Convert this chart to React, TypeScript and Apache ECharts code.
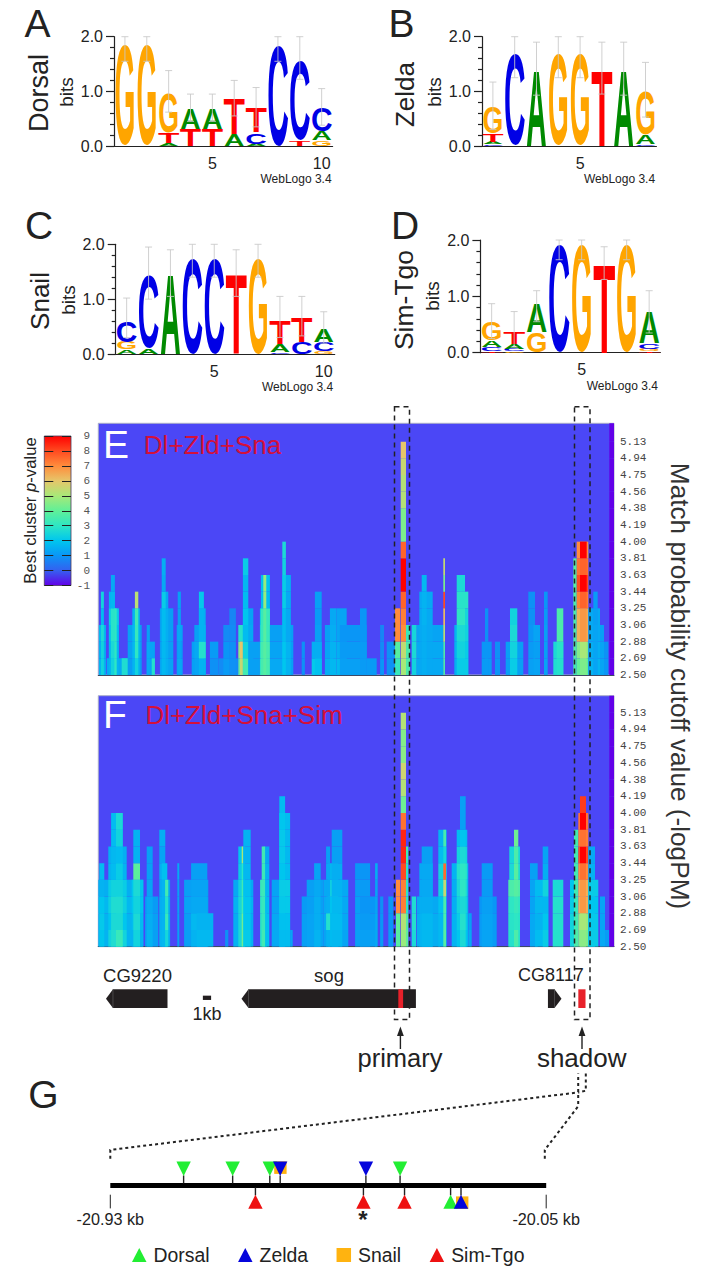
import React, { useEffect, useRef } from "react";
import * as echarts from "echarts";

const FONT = '"Liberation Sans", Arial, sans-serif';
const MONO = '"Liberation Mono", "DejaVu Sans Mono", monospace';
const INK = "#222222";

// ---------- sequence logos: letters bottom-up with their height in bits ----------
const logoDorsal: [string, number][][] = [
  [["G", 1.9]], [["G", 1.9]],
  [["A", 0.05], ["T", 0.2], ["G", 0.75]],
  [["T", 0.32], ["A", 0.38]], [["T", 0.32], ["A", 0.38]],
  [["A", 0.22], ["T", 0.65]],
  [["A", 0.04], ["C", 0.21], ["T", 0.45]],
  [["C", 1.9]],
  [["T", 0.1], ["C", 1.5]],
  [["G", 0.1], ["A", 0.17], ["C", 0.45]],
];
const errDorsal = [[1.55, 2], [1.55, 2], [0.62, 1.38], [0.45, 0.95], [0.45, 0.95], [0.55, 1.2], [0.35, 1.07], [1.55, 2], [1.22, 2], [0.38, 1.05]];
const logoZelda: [string, number][][] = [
  [["C", 0.03], ["A", 0.04], ["T", 0.15], ["G", 0.5]],
  [["C", 1.73]], [["A", 1.4]], [["G", 1.73]], [["G", 1.73]], [["T", 1.4]], [["A", 1.4]],
  [["C", 0.03], ["A", 0.17], ["G", 0.83]],
];
const errZelda = [[0.3, 1.17], [1.25, 2], [0.93, 1.9], [1.25, 2], [1.25, 2], [0.95, 1.9], [0.93, 1.9], [0.53, 1.53]];
const logoSnail: [string, number][][] = [
  [["A", 0.08], ["G", 0.14], ["C", 0.4]],
  [["A", 0.1], ["C", 1.37]],
  [["A", 1.47]], [["C", 1.8]], [["C", 1.8]], [["T", 1.47]], [["G", 1.8]],
  [["C", 0.03], ["A", 0.15], ["T", 0.44]],
  [["C", 0.22], ["T", 0.46]],
  [["G", 0.05], ["C", 0.18], ["A", 0.24]],
];
const errSnail = [[0.3, 1.02], [1.0, 1.95], [1.05, 1.9], [1.4, 2], [1.4, 2], [1.05, 1.9], [1.4, 2], [0.3, 1.05], [0.33, 1.05], [0.2, 0.77]];
const logoSimTgo: [string, number][][] = [
  [["T", 0.03], ["C", 0.07], ["A", 0.12], ["G", 0.35]],
  [["G", 0.03], ["C", 0.04], ["A", 0.08], ["T", 0.2]],
  [["G", 0.37], ["A", 0.51]],
  [["C", 1.97]], [["G", 1.97]], [["T", 1.6]], [["G", 1.97]],
  [["T", 0.03], ["G", 0.04], ["C", 0.1], ["A", 0.56]],
];
const errSimTgo = [[0.25, 0.87], [0.1, 0.73], [0.55, 1.1], [1.65, 2], [1.65, 2], [1.3, 1.88], [1.65, 2], [0.35, 1.1]];

// ---------- heat maps: [first bin, last bin, best-cluster value per row, bottom-up] ----------
const rowLabels = ["2.50", "2.69", "2.88", "3.06", "3.25", "3.44", "3.63", "3.81", "4.00", "4.19", "4.38", "4.56", "4.75", "4.94", "5.13"];
const stripValues = [-1, -1, -1, -1, -1, -1, -1, -1, -1, -1, -1, -1, -1, -1, -1, -1];
type Peak = [number, number, number[]];

const peaksE: Peak[] = [
  [0.3, 3.8, [1.6, 1.5, 1.7]],
  [1.3, 2.8, [2.4, 2.4, 2.6, 1.8, 2.4]],
  [4.2, 15, [1.4]],
  [5.3, 10.3, [1.6, 1.7, 1.9, 2.2]],
  [5.3, 8.3, [1.6, 1.7, 1.9, 2.2, 1.6]],
  [6.3, 8.3, [2.4, 2.6, 2.9, 2.9, 1.7, 1.4]],
  [8, 9.2, [3, 3, 3, 3]],
  [11.7, 15, [2.7]],
  [14.7, 21.7, [1.1, 1.2, 1.2]],
  [17, 20.8, [1.6, 1.7, 1.7, 1.6]],
  [18.3, 20, [2.4, 3, 3.2, 3.4, 5.3]],
  [24.2, 28.3, [1.3, 1.3]],
  [24.2, 25.8, [1.4, 1.4, 1.2]],
  [26.7, 28.3, [2.8]],
  [30.8, 37.5, [1.3, 1.2, 1.2, 1.2]],
  [31.7, 35, [1.5, 1.5, 1.5, 1.5, 1.4]],
  [31.7, 33.7, [1.7, 1.7, 1.8, 1.8, 2.2, 1.4, 1.5]],
  [39.2, 42.2, [1.3, 1.1, 1.3]],
  [39.7, 41.3, [1.4, 1.3, 1.4, 1.2, 1.2]],
  [46.7, 53.7, [1.2, 1.2]],
  [48, 53.7, [1.3, 1.4, 1.2]],
  [50.3, 53.7, [1.6, 2.8, 1.6, 1.5]],
  [50.3, 52.8, [1.6, 2.8, 1.6, 1.6, 2.1]],
  [55.8, 60, [0.9, 1.1]],
  [60, 70, [0.8]],
  [62.5, 65.8, [1.1, 1, 0.8]],
  [65.5, 68.8, [0.9, 0.9, 0.8, 0.7]],
  [70, 73.3, [3.8, 4.6, 2.9]],
  [70.8, 73.3, [5.5, 6]],
  [72.3, 77.5, [1.6, 1.6, 1.4, 1.3]],
  [72.3, 75, [3.4, 2.4, 1.8, 2, 1.8, 1.7, 2.2]],
  [75, 80.8, [1.2, 1.2]],
  [80.8, 85.8, [3, 2.9, 2.6, 2.3]],
  [81.3, 85.8, [3.5, 3.5, 3.2, 3.2, 1.8, 1.9]],
  [82.5, 84, [3.8, 3.8, 3.8, 3.8, 4.8, 4.8]],
  [85.8, 92.5, [1.4, 1.3, 1.2]],
  [92.5, 97.5, [1.2, 1.2, 1.2]],
  [92, 96.3, [1.6, 1.6, 1.4, 1.4, 1.4, 1.5]],
  [92, 93.8, [2, 2, 1.8, 1.8, 2.2, 2.2, 2.4, 2.6]],
  [101.7, 103.3, [0.9, 0.9]],
  [106.7, 111.7, [2.1, 1.5]],
  [108.3, 111.7, [1.9, 1.5, 1.2, 1.1, 1.2]],
  [113.3, 117.5, [1.5, 1.3, 1.2]],
  [115.8, 119.2, [1.7, 1.6, 1.5, 1.4]],
  [119.2, 124.2, [1.7, 1.5, 1.3, 1.3]],
  [120.8, 134.2, [1.2, 1.1, 1]],
  [130.85, 134.2, [1.1, 1.1, 1, 1]],
  [134.2, 139.2, [1.1]],
  [140.9, 142.85, [1, 0.8, 0.7]],
  [144.2, 148.35, [0.9, 0.9]],
  [148.35, 150.85, [3.2, 3.8, 7, 7]],
  [151.2, 153.85, [5, 5.4, 7, 7.2, 7.6, 9, 9, 7.6, 4.4, 4.4, 5.2, 5.2, 5.5, 6]],
  [153.85, 155.85, [3.6, 3.6, 3.2]],
  [156.7, 159.2, [2.4, 2.6, 2.5]],
  [159.2, 172.5, [1.4, 1.4, 1.3]],
  [160.5, 167.2, [1.4, 1.4, 1.4, 1.4, 1.4]],
  [161.7, 164.2, [1.5, 1.5, 1.5, 1.6, 1.6, 1.7]],
  [172.5, 173.35, [3.6, 3.6, 5.2, 6.2, 8, 4.4, 5.4]],
  [178, 185, [1.5, 1.6, 1.6]],
  [180, 185, [2.2, 2.2, 2.4, 2.5, 2.9]],
  [179.2, 183.35, [2.2, 2.4, 2.6, 3, 2.9, 2.6]],
  [191.7, 196.7, [1.1, 1]],
  [193.35, 195, [1.1, 1, 0.9, 0.9]],
  [198.35, 200.85, [1, 0.9]],
  [203.7, 212.5, [1.2, 1.2]],
  [205.85, 209.5, [2.2, 2.4, 2.6, 2.4]],
  [215, 218.35, [1.2, 1.1, 1, 0.9, 0.9]],
  [217.5, 220.85, [1.3, 1.2, 1.3]],
  [222.85, 224.7, [1.3, 1.2, 1.2, 1.1, 1]],
  [227.5, 232.5, [2.7, 2.6]],
  [229.2, 232.5, [2.8, 2.9, 3.6, 3.6]],
  [237.5, 239.2, [3.4, 3.6, 3.6, 3.6, 3.6, 3.8, 3.8]],
  [239.2, 245, [4, 4.5, 6.4, 6.4, 7.2, 8, 7.4, 7]],
  [240.85, 244.2, [4.4, 5, 6.8, 6.8, 7.6, 9, 7.6, 9]],
  [245, 250.85, [1.6, 1.5, 1.4, 1.4]],
  [247.5, 249.7, [1.3, 1.3, 1.3, 1.2, 1.1]],
  [250.85, 252.85, [1.3, 1.3, 1.2]],
  [252.85, 255, [1, 0.9]],
];

const peaksF: Peak[] = [
  [0, 22.5, [1.6, 1.6, 1.7, 1.5]],
  [0.5, 3, [2, 2.1, 2, 1.6, 1.8]],
  [5, 14.2, [2.4, 2, 2.3, 2.2, 1.6, 1.5]],
  [6.4, 12.2, [2.7, 2.6, 2.7, 2.4, 1.8, 1.7, 1.8, 1.8]],
  [8.85, 12.2, [3.2, 2.6, 2.7, 2.4, 2.2, 1.8, 2.4, 2.6]],
  [16.7, 22.5, [1.6, 1.8, 2, 2]],
  [17.5, 20.85, [2.4, 2.6, 2.4, 2.6, 3.9, 1.6, 1.6]],
  [23.4, 30, [1.2, 1.2, 1.1]],
  [24.2, 27.2, [1.6, 1.5, 1.4, 1.3, 1.2, 1.2]],
  [30.9, 35.9, [1.5, 1.5, 1.4, 1.3]],
  [30.5, 33.5, [1.6, 1.5, 1.5, 1.4, 1.5, 1.3, 1.5]],
  [31.7, 34.5, [1.7, 1.6, 1.6, 1.6, 1.9]],
  [33.4, 35, [2.5, 3.2, 2.8, 3.4]],
  [39.5, 40.5, [1.2, 1.2, 1.2, 1.2, 1.4]],
  [42.9, 55, [1.2, 1.2, 1.3, 1.2]],
  [46.4, 54.5, [1.6, 1.7, 1.4, 1.3, 1.2]],
  [49.2, 57.5, [1.7, 1.6]],
  [63.4, 65, [0.9]],
  [67.5, 77.5, [1.6, 1.5, 1.6, 1.4]],
  [70, 73.4, [2.6, 2.5, 2.5, 2.4, 2.2, 2]],
  [71.7, 72.5, [4.2, 4.2, 3.4, 3.4, 3, 5]],
  [72.5, 76.2, [2.1, 2, 2, 1.9, 1.7, 1.6, 1.6]],
  [80.9, 84.2, [2.8, 2.9, 3, 3.2]],
  [82.5, 85.5, [1.9, 1.9, 1.8, 1.7, 1.6, 1.4]],
  [81.7, 83.4, [3.4, 3.2, 3.2, 3.3, 3.3, 3.4]],
  [86.7, 95.9, [1.4, 1.4, 1.3, 1.3]],
  [90.5, 95.9, [1.8, 1.9, 2.1, 2.2, 1.8, 1.7, 1.7, 1.8]],
  [90.5, 93.4, [1.8, 1.9, 2.1, 2.2, 2, 2.1, 2.1, 2, 1.8]],
  [95.9, 97.2, [1.3]],
  [101.7, 110.9, [1.2, 1.2, 1.1]],
  [104.2, 112.5, [1.3, 1.3, 1.2, 1.2]],
  [107.9, 111.2, [1.6, 1.5, 1.5, 1.4, 1.3]],
  [112.5, 125, [1.3, 1.4, 1.4, 1.4]],
  [115, 120, [1.8, 1.8, 2, 2.4, 1.7]],
  [113.9, 115.9, [1.6, 2.8, 1.5, 1.4, 1.4, 1.2]],
  [116.7, 122, [1.7, 1.8, 1.7, 1.6, 1.5, 1.2, 1.2]],
  [128.4, 135.9, [1.2, 1.2, 1.2, 1.1, 1]],
  [130.85, 139.2, [1.2, 1.1, 1]],
  [138.4, 139.7, [1.4, 1.4, 1.3, 1.3, 1.5]],
  [140.9, 142.5, [1.1, 1, 0.9]],
  [145, 147.5, [1.1, 1, 1]],
  [148.85, 150.85, [3.8, 4, 7, 7]],
  [151.2, 153.85, [4.8, 5.2, 7.2, 7.2, 8, 8.5, 8.5, 7.4, 4.2, 5.2, 5.6, 4.6, 4.5, 5.2]],
  [153.85, 155, [4, 3.8, 3, 3, 3, 3.4]],
  [156.7, 158.85, [2.6, 2.8, 2.7]],
  [159.2, 170.85, [1.5, 1.5, 1.4]],
  [160.5, 167.2, [1.6, 1.6, 1.5, 1.4, 1.4]],
  [161.7, 167.2, [1.7, 1.7, 1.5, 1.4, 1.4, 1.2]],
  [170, 174.2, [1.7, 1.7, 1.9, 2.4, 2.4, 1.8, 1.6]],
  [172.5, 173.85, [3.8, 3.6, 3.6, 5.5, 7.5, 2.5, 3.5]],
  [176.7, 185, [1.6, 1.6, 1.5, 1.5, 1.6]],
  [179.2, 184.5, [2, 2.2, 2.4, 2.6, 2.8, 2.4, 1.8]],
  [180.85, 183.7, [2.6, 2.8, 2.6, 3, 3, 2.6, 2, 1.2, 1.2]],
  [185, 186.7, [1.4, 1.2]],
  [190.5, 199.2, [1.1, 1.1, 1]],
  [191.7, 197.2, [1.3, 1.3, 1.2, 1.1, 1.1]],
  [205, 210.85, [2.8, 2.9, 3, 3.6]],
  [205.5, 210.85, [2.8, 2.9, 3, 3.6, 2.6, 2.5]],
  [207.85, 210, [3.6, 3, 3.2, 3.8, 3.8, 3.6, 4.2]],
  [215.85, 219.7, [1.4, 1.4, 1.3, 1.3, 1.2]],
  [218.35, 225, [1.8, 1.6, 1.7, 1.8]],
  [222.2, 225, [2.2, 2, 1.7, 2.4, 1.5, 1.3]],
  [227.2, 232.5, [2.8, 2.8, 2.8, 2.6]],
  [235.85, 238.35, [2.4, 2.4, 2.2, 2]],
  [237.85, 240, [3.6, 3.4, 3.2, 3.4, 3.4, 3.4, 3.4]],
  [240, 245, [4.4, 4.8, 6.4, 6.4, 7, 8, 7.2, 7.4]],
  [240.85, 243.85, [4.6, 5, 6.8, 6.8, 7.4, 9, 7.4, 9, 8.2]],
  [245, 250, [2.2, 2.1, 2, 2.2]],
  [245, 248.35, [2.2, 2.1, 2, 2.2, 1.6, 1.4]],
  [250.85, 253.35, [1.4, 1.3, 1.3]],
  [253.35, 255.5, [1.1]],
];

// ---------- colour scale ----------
const scaleColors = ["#6200e8", "#3560f0", "#0a96f6", "#00c6ee", "#2ee6c4", "#60f098", "#a8e878", "#e6c66a", "#ff8c3c", "#ff4a20", "#ff0000"];

// ---------- gene track, in kb along the locus ----------
const genes: [number, number, number][] = [[0.96, 8.65, -1], [17.9, 39.7, -1], [56.2, 57.9, 1]];
const enhancers: [number, number][] = [[37.5, 38.1], [60.0, 60.9]];
const scaleBarKb: [number, number] = [13.07, 14.1];

// ---------- binding sites in panel G: [kb, strand] ----------
const sitesSnail: [number, number][] = [[-20.587, 1], [-20.22, -1]];
const sitesDorsal: [number, number][] = [[-20.782, 1], [-20.683, 1], [-20.608, 1], [-20.345, 1], [-20.243, -1]];
const sitesZelda: [number, number][] = [[-20.587, 1], [-20.414, 1], [-20.222, -1]];
const sitesSimTgo: [number, number][] = [[-20.637, -1], [-20.419, -1], [-20.336, -1]];
const regionEnds = [-20.93, -20.05];

const LETTER: Record<string, { color: string; inkW: number; inkH: number }> = {
  A: { color: "#008a00", inkW: 0.72, inkH: 0.716 },
  C: { color: "#0000e6", inkW: 0.68, inkH: 0.74 },
  G: { color: "#ffa500", inkW: 0.76, inkH: 0.74 },
  T: { color: "#ff0000", inkW: 0.58, inkH: 0.716 },
};

function hex(c: string) {
  return [1, 3, 5].map((i) => parseInt(c.slice(i, i + 2), 16));
}
function colorOf(v: number) {
  const t = Math.max(0, Math.min(9.9999, v + 1));
  const i = Math.floor(t);
  const a = hex(scaleColors[i]);
  const b = hex(scaleColors[i + 1]);
  const f = t - i;
  return `rgb(${a.map((x, k) => Math.round(x + (b[k] - x) * f)).join(",")})`;
}

function buildOption() {
  const grid: any[] = [];
  const xAxis: any[] = [];
  const yAxis: any[] = [];
  const series: any[] = [];
  const axisColor = { color: INK, width: 1.2 };

  const addLogo = (logo: [string, number][][], err: number[][], left: number, top: number, width: number, height: number) => {
    const g = grid.length;
    grid.push({ left, top, width, height });
    xAxis.push({
      type: "category", gridIndex: g, data: logo.map((_, i) => String(i + 1)),
      axisLine: { lineStyle: axisColor },
      axisTick: { alignWithLabel: true, interval: 0, length: 3, lineStyle: axisColor },
      axisLabel: { interval: 0, hideOverlap: false, margin: 9, fontSize: 16, fontFamily: FONT, color: INK, formatter: (v: string) => (Number(v) % 5 === 0 ? v : "") },
    });
    const y = yAxis.length;
    yAxis.push({
      type: "value", gridIndex: g, min: 0, max: 2, interval: 1,
      axisLine: { show: true, lineStyle: axisColor },
      axisTick: { show: true, length: 8, lineStyle: axisColor },
      minorTick: { show: true, splitNumber: 5, length: 4, lineStyle: axisColor },
      splitLine: { show: false },
      axisLabel: { margin: 11, fontSize: 16, fontFamily: FONT, color: INK, formatter: (v: number) => v.toFixed(1) },
    });
    const stacks: { letter: string; row: number[] }[] = [];
    logo.forEach((col, i) => {
      let base = 0;
      col.forEach(([letter, h]) => {
        stacks.push({ letter, row: [i, base, base + h] });
        base += h;
      });
    });
    series.push({
      type: "custom", xAxisIndex: g, yAxisIndex: y, clip: false, silent: true,
      data: stacks.map((s) => s.row),
      encode: { x: 0, y: [1, 2] },
      renderItem: (p: any, api: any) => {
        const s = stacks[p.dataIndex];
        const info = LETTER[s.letter];
        const low = api.coord([api.value(0), api.value(1)]);
        const high = api.coord([api.value(0), api.value(2)]);
        const w = api.size([1, 0])[0] * 0.93;
        const h = Math.max(0.6, low[1] - high[1]);
        const fs = 40;
        const sy = h / (info.inkH * fs);
        return {
          type: "text",
          x: low[0],
          y: (low[1] + high[1]) / 2 + 0.0115 * fs * sy,
          scaleX: w / (info.inkW * fs),
          scaleY: sy,
          style: { text: s.letter, fontSize: fs, fontWeight: "bold", fontFamily: FONT, fill: info.color, align: "center", verticalAlign: "middle" },
        };
      },
    });
    series.push({
      type: "custom", xAxisIndex: g, yAxisIndex: y, clip: false, silent: true, z: 3,
      data: err.map((e, i) => [i, e[0], e[1]]),
      encode: { x: 0, y: [1, 2] },
      renderItem: (_p: any, api: any) => {
        const low = api.coord([api.value(0), api.value(1)]);
        const high = api.coord([api.value(0), api.value(2)]);
        const style = { stroke: "rgba(200,200,200,0.85)", lineWidth: 1 };
        const mk = (x1: number, y1: number, x2: number, y2: number) => ({ type: "line", shape: { x1, y1, x2, y2 }, style });
        return {
          type: "group",
          children: [mk(low[0], low[1], low[0], high[1]), mk(low[0] - 3.5, low[1], low[0] + 3.5, low[1]), mk(low[0] - 3.5, high[1], low[0] + 3.5, high[1])],
        };
      },
    });
  };

  addLogo(logoDorsal, errDorsal, 114, 36.7, 218.6, 109.3);
  addLogo(logoZelda, errZelda, 482, 36.7, 174.4, 109.3);
  addLogo(logoSnail, errSnail, 115.7, 244.3, 219, 109.7);
  addLogo(logoSimTgo, errSimTgo, 480.4, 240, 180, 112.7);

  // colour bar
  {
    const g = grid.length;
    grid.push({ left: 44.3, top: 436, width: 26.7, height: 149.5 });
    xAxis.push({ type: "value", gridIndex: g, min: 0, max: 1, show: false });
    const y = yAxis.length;
    const tick = { show: true, inside: true, length: 9, lineStyle: { color: "#222", width: 1 } };
    yAxis.push({ type: "value", gridIndex: g, min: -1, max: 9, interval: 1, z: 5, position: "left", axisLine: { show: false }, axisTick: tick, axisLabel: { show: false }, splitLine: { show: false } });
    yAxis.push({
      type: "value", gridIndex: g, min: -1, max: 9, interval: 1, z: 5, position: "right", axisLine: { show: false }, axisTick: tick, splitLine: { show: false },
      axisLabel: { margin: 19, align: "right", fontSize: 11, fontFamily: MONO, color: "#555" },
    });
    series.push({
      type: "custom", xAxisIndex: g, yAxisIndex: y, silent: true, z: 1,
      data: [[0, 1, -1, 9]],
      encode: { x: [0, 1], y: [2, 3] },
      renderItem: (_p: any, api: any) => {
        const a = api.coord([api.value(0), api.value(2)]);
        const b = api.coord([api.value(1), api.value(3)]);
        return {
          type: "rect",
          shape: { x: a[0], y: b[1], width: b[0] - a[0], height: a[1] - b[1] },
          style: {
            stroke: "#4a3a5a", lineWidth: 0.8,
            fill: new echarts.graphic.LinearGradient(0, 1, 0, 0, scaleColors.map((color, i) => ({ offset: i / (scaleColors.length - 1), color }))),
          },
        };
      },
    });
  }

  const addHeat = (peaks: Peak[], top: number, height: number, maxRow: number) => {
    const g = grid.length;
    grid.push({ left: 98.3, top, width: 515.7, height, show: true, backgroundColor: "#4b47f6", borderColor: "#a9adc9", borderWidth: 1 });
    xAxis.push({ type: "value", gridIndex: g, min: 0, max: 257.85, axisLine: { show: true, onZero: false, lineStyle: { color: "#3c4a66", width: 1.2 } }, axisTick: { show: false }, axisLabel: { show: false }, splitLine: { show: false } });
    const y = yAxis.length;
    yAxis.push({
      type: "value", gridIndex: g, min: 0, max: maxRow, interval: 1, position: "right",
      axisLine: { show: false }, axisTick: { show: false }, splitLine: { show: false },
      axisLabel: { margin: 6, fontSize: 11, fontFamily: MONO, color: "#444", hideOverlap: false, formatter: (v: number) => (Number.isInteger(v) && rowLabels[v] ? rowLabels[v] : "") },
    });
    const cells: number[][] = [];
    [...peaks, [255.5, 257.85, stripValues] as Peak].forEach(([a, b, vals]) => vals.forEach((v, r) => cells.push([a, b, r, v])));
    series.push({
      type: "custom", xAxisIndex: g, yAxisIndex: y, clip: true, silent: true,
      data: cells,
      encode: { x: [0, 1], y: 2 },
      renderItem: (_p: any, api: any) => {
        const p0 = api.coord([api.value(0), api.value(2)]);
        const p1 = api.coord([api.value(1), api.value(2) + 1]);
        return { type: "rect", shape: { x: p0[0], y: p1[1], width: p1[0] - p0[0], height: p0[1] - p1[1] }, style: { fill: colorOf(api.value(3)) } };
      },
    });
  };
  addHeat(peaksE, 423.3, 251.7, 15.1);
  addHeat(peaksF, 695.7, 251, 15.02);

  // gene track
  {
    const g = grid.length;
    grid.push({ left: 98.3, top: 989.3, width: 515.7, height: 18.7 });
    xAxis.push({ type: "value", gridIndex: g, min: 0, max: 64.46, show: false });
    const y = yAxis.length;
    yAxis.push({ type: "value", gridIndex: g, min: 0, max: 1, show: false });
    series.push({
      type: "custom", xAxisIndex: g, yAxisIndex: y, clip: false, silent: true,
      data: genes.map((d) => [...d]),
      encode: { x: [0, 1] },
      renderItem: (_p: any, api: any) => {
        const a = api.coord([api.value(0), 0]);
        const b = api.coord([api.value(1), 1]);
        const dir = api.value(2);
        const mid = (a[1] + b[1]) / 2;
        const head = 7;
        const pts = dir < 0
          ? [[a[0], mid], [a[0] + head, b[1]], [b[0], b[1]], [b[0], a[1]], [a[0] + head, a[1]]]
          : [[a[0], b[1]], [b[0] - head, b[1]], [b[0], mid], [b[0] - head, a[1]], [a[0], a[1]]];
        const sx = dir < 0 ? a[0] + head : b[0] - head;
        return {
          type: "group",
          children: [
            { type: "polygon", shape: { points: pts }, style: { fill: "#231f20" } },
            { type: "line", shape: { x1: sx, y1: b[1], x2: sx, y2: a[1] }, style: { stroke: "#5a5a5a", lineWidth: 0.7 } },
          ],
        };
      },
    });
    series.push({
      type: "custom", xAxisIndex: g, yAxisIndex: y, clip: false, silent: true, z: 3,
      data: enhancers.map((d) => [...d]),
      encode: { x: [0, 1] },
      renderItem: (_p: any, api: any) => {
        const a = api.coord([api.value(0), 0]);
        const b = api.coord([api.value(1), 1]);
        return { type: "rect", shape: { x: a[0], y: b[1], width: b[0] - a[0], height: a[1] - b[1] }, style: { fill: "#e8212a" } };
      },
    });
    series.push({
      type: "custom", xAxisIndex: g, yAxisIndex: y, clip: false, silent: true,
      data: [scaleBarKb],
      encode: { x: [0, 1] },
      renderItem: (_p: any, api: any) => {
        const a = api.coord([api.value(0), 0.66]);
        const b = api.coord([api.value(1), 0.43]);
        return { type: "rect", shape: { x: a[0], y: a[1], width: b[0] - a[0], height: b[1] - a[1] }, style: { fill: "#231f20" } };
      },
    });
  }

  // panel G
  {
    const g = grid.length;
    grid.push({ left: 110.3, top: 1155, width: 435.9, height: 30.4 });
    xAxis.push({
      type: "value", gridIndex: g, min: regionEnds[0], max: regionEnds[1],
      axisLine: { lineStyle: { color: "#000", width: 5, cap: "butt" } },
      axisTick: { show: false }, splitLine: { show: false },
      axisLabel: { customValues: regionEnds, margin: 26, fontSize: 16.2, fontFamily: FONT, color: INK, formatter: (v: number) => `${v.toFixed(2)} kb` },
    });
    const y = yAxis.length;
    yAxis.push({ type: "value", gridIndex: g, min: 0, max: 1, show: false });
    const addSites = (name: string, color: string, sites: [number, number][], square: boolean) => {
      series.push({
        name, type: "custom", xAxisIndex: g, yAxisIndex: y, clip: false, silent: true,
        itemStyle: { color },
        data: sites,
        encode: { x: 0 },
        z: square ? 2 : 3,
        renderItem: (_p: any, api: any) => {
          const c = api.coord([api.value(0), 0]);
          const up = api.value(1) > 0;
          const stem = { type: "line", shape: up ? { x1: c[0], y1: c[1] - 2, x2: c[0], y2: c[1] - 10 } : { x1: c[0], y1: c[1] + 2, x2: c[0], y2: c[1] + 10 }, style: { stroke: "#222", lineWidth: 1.4 } };
          const mark = square
            ? { type: "rect", shape: { x: c[0] - 6, y: up ? c[1] - 24 : c[1] + 11, width: 12.4, height: 12.5 }, style: { fill: color } }
            : { type: "polygon", shape: { points: up
                ? [[c[0] - 7.2, c[1] - 24], [c[0] + 7.2, c[1] - 24], [c[0], c[1] - 9.4]]
                : [[c[0] - 7.2, c[1] + 23.4], [c[0] + 7.2, c[1] + 23.4], [c[0], c[1] + 9.4]] }, style: { fill: color } };
          return { type: "group", children: square ? [mark] : [stem, mark] };
        },
      });
    };
    addSites("Snail", "#ffb310", sitesSnail, true);
    addSites("Dorsal", "#22ee33", sitesDorsal, false);
    addSites("Zelda", "#0505dc", sitesZelda, false);
    addSites("Sim-Tgo", "#ee1111", sitesSimTgo, false);
  }

  const label = (text: string, x: number, y: number, fontSize: number, extra: any = {}, el: any = {}) => ({
    type: "text", x, y, z: 100, silent: true, ...el,
    style: { text, fontSize, fontFamily: FONT, fill: INK, align: "center", verticalAlign: "middle", ...extra },
  });
  const vert = Math.PI / 2;
  const dashStyle = { stroke: "#222", lineWidth: 1.5, lineDash: [5, 4], fill: "none" };
  const dotStyle = { stroke: "#222", lineWidth: 2, lineDash: [3, 3], fill: "none" };
  const arrow = (x: number) => [
    { type: "line", z: 100, silent: true, shape: { x1: x, y1: 1034, x2: x, y2: 1049 }, style: { stroke: "#222", lineWidth: 1.4 } },
    { type: "polygon", z: 100, silent: true, shape: { points: [[x, 1026.5], [x - 3.4, 1036], [x + 3.4, 1036]] }, style: { fill: "#222" } },
  ];
  const endTick = (x: number) => ({ type: "line", z: 100, silent: true, shape: { x1: x, y1: 1194.7, x2: x, y2: 1208.4 }, style: { stroke: "#222", lineWidth: 1 } });

  const graphic = [
    label("A", 37.5, 23.5, 39), label("B", 401.5, 23.5, 39), label("C", 39, 225.5, 39), label("D", 405, 225.5, 39),
    label("Dorsal", 39, 93, 27, {}, { rotation: vert }),
    label("Zelda", 405, 94.5, 26, {}, { rotation: vert }),
    label("Snail", 40, 301, 26, {}, { rotation: vert }),
    label("Sim-Tgo", 404, 300, 26.5, {}, { rotation: vert }),
    label("bits", 66.5, 92, 19, {}, { rotation: vert }),
    label("bits", 434, 92, 19, {}, { rotation: vert }),
    label("bits", 68, 300, 19, {}, { rotation: vert }),
    label("bits", 432, 296, 19, {}, { rotation: vert }),
    label("WebLogo 3.4", 296, 179, 12), label("WebLogo 3.4", 619.5, 179, 12),
    label("WebLogo 3.4", 297.5, 386.7, 12), label("WebLogo 3.4", 622.3, 386, 12),
    label("Best cluster {i|p}-value", 30.5, 510.5, 16.7, { fontFamily: FONT, rich: { i: { fontStyle: "italic", fontSize: 16.7, fontFamily: FONT, fill: INK } } }, { rotation: vert }),
    label("Match probability cutoff value (-logPM)", 680, 686, 26.2, { fill: "#333" }, { rotation: -vert }),
    label("E", 116, 444.5, 39, { fill: "#fff" }),
    label("F", 115, 714.5, 39, { fill: "#fff" }),
    label("Dl+Zld+Sna", 212.5, 445, 26, { fill: "#d4103a" }),
    label("Dl+Zld+Sna+Sim", 244, 715, 26, { fill: "#d4103a" }),
    label("CG9220", 137.5, 975, 18.5), label("sog", 329, 975, 18.5), label("CG8117", 550.8, 975, 18),
    label("1kb", 207, 1013.5, 18),
    label("primary", 400, 1057.5, 25.5), label("shadow", 581.7, 1057.5, 26),
    label("G", 43.5, 1094, 39),
    label("*", 363, 1219, 24, { fontWeight: "bold" }),
    { type: "rect", z: 101, silent: true, shape: { x: 394.5, y: 406.7, width: 15, height: 612.9 }, style: dashStyle },
    { type: "rect", z: 101, silent: true, shape: { x: 574.5, y: 406.7, width: 15.5, height: 612.9 }, style: dashStyle },
    ...arrow(400.4), ...arrow(582),
    { type: "polyline", z: 100, silent: true, shape: { points: [[110.3, 1158.8], [110.3, 1149.9], [578.2, 1092.4]] }, style: dotStyle },
    { type: "polyline", z: 100, silent: true, shape: { points: [[544.8, 1158.8], [544.8, 1149.9], [578.2, 1106.2], [578.2, 1073.4]] }, style: dotStyle },
    { type: "polyline", z: 100, silent: true, shape: { points: [[585.8, 1073.4], [585.8, 1090.7], [578.2, 1092.4]] }, style: dotStyle },
    endTick(110.3), endTick(546.2),
  ];

  return {
    animation: false,
    backgroundColor: "#fff",
    grid, xAxis, yAxis, series, graphic,
    legend: {
      left: 132, top: 1245.5, padding: 0, itemWidth: 14.5, itemHeight: 14, itemGap: 28.5, selectedMode: false,
      textStyle: { fontSize: 19.4, fontFamily: FONT, color: INK, padding: [0, 0, 0, 2] },
      data: [
        { name: "Dorsal", icon: "triangle" },
        { name: "Zelda", icon: "triangle" },
        { name: "Snail", icon: "rect" },
        { name: "Sim-Tgo", icon: "triangle" },
      ],
    },
  };
}

export default function App() {
  const ref = useRef<HTMLDivElement>(null);
  useEffect(() => {
    document.body.style.margin = "0";
    const chart = echarts.init(ref.current!, undefined, { renderer: "svg" });
    chart.setOption(buildOption() as any);
    return () => chart.dispose();
  }, []);
  return <div ref={ref} style={{ position: "absolute", left: 0, top: 0, width: 719, height: 1270 }} />;
}
